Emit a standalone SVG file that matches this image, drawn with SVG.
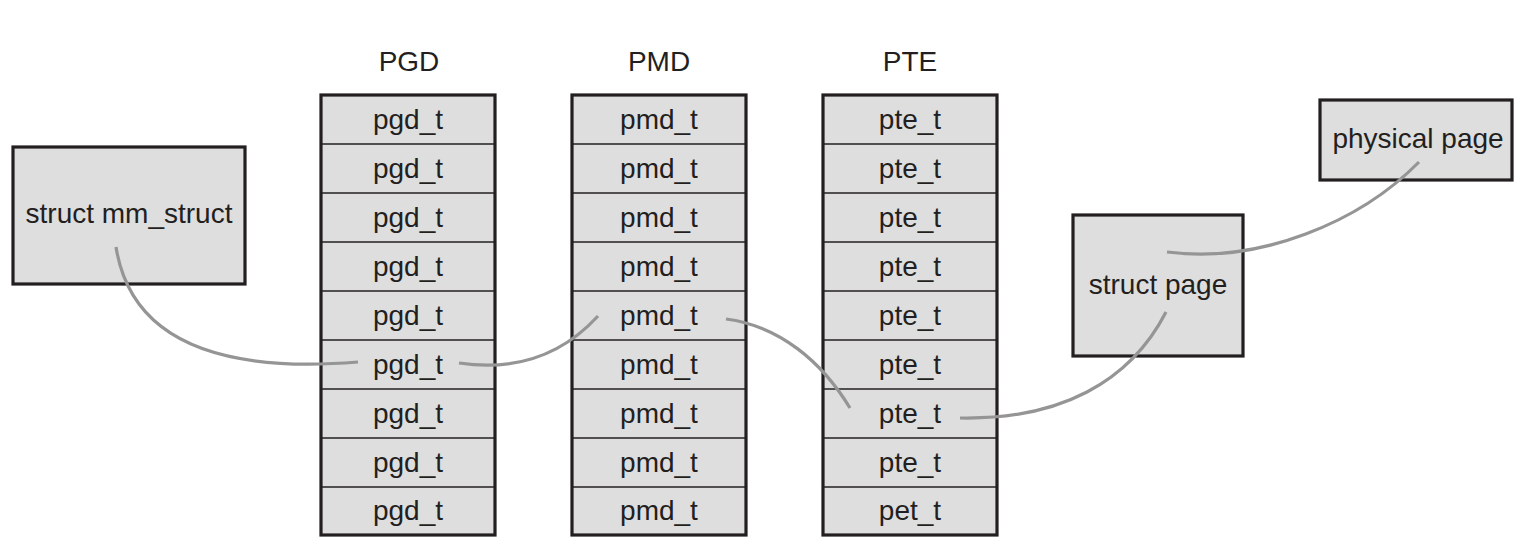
<svg xmlns="http://www.w3.org/2000/svg" width="1524" height="550" viewBox="0 0 1524 550">
<style>
.box{fill:#dedede;stroke:#231f20;stroke-width:3.2}
.sep{stroke:#231f20;stroke-width:1.6}
.t{font-family:"Liberation Sans",Arial,sans-serif;font-size:28px;fill:#231f20;text-anchor:middle}
.c{fill:none;stroke:#959595;stroke-width:3.2;stroke-linecap:butt}
</style>
<rect width="1524" height="550" fill="#ffffff"/>
<g id="mm_struct"><rect class="box" x="13" y="147" width="232" height="137"/><text class="t" x="129" y="223">struct mm_struct</text></g>
<g id="pgd">
<text class="t" x="409" y="71">PGD</text>
<rect class="box" x="321" y="95" width="174" height="440"/>
<g class="sep"><line x1="321" x2="495" y1="144" y2="144"/><line x1="321" x2="495" y1="193" y2="193"/><line x1="321" x2="495" y1="242" y2="242"/><line x1="321" x2="495" y1="291" y2="291"/><line x1="321" x2="495" y1="340" y2="340"/><line x1="321" x2="495" y1="389" y2="389"/><line x1="321" x2="495" y1="438" y2="438"/><line x1="321" x2="495" y1="487" y2="487"/></g>
<text class="t" x="408" y="129">pgd_t</text><text class="t" x="408" y="178">pgd_t</text><text class="t" x="408" y="227">pgd_t</text><text class="t" x="408" y="276">pgd_t</text><text class="t" x="408" y="325">pgd_t</text><text class="t" x="408" y="374">pgd_t</text><text class="t" x="408" y="423">pgd_t</text><text class="t" x="408" y="472">pgd_t</text><text class="t" x="408" y="520">pgd_t</text>
</g>
<g id="pmd">
<text class="t" x="659" y="71">PMD</text>
<rect class="box" x="572" y="95" width="174" height="440"/>
<g class="sep"><line x1="572" x2="746" y1="144" y2="144"/><line x1="572" x2="746" y1="193" y2="193"/><line x1="572" x2="746" y1="242" y2="242"/><line x1="572" x2="746" y1="291" y2="291"/><line x1="572" x2="746" y1="340" y2="340"/><line x1="572" x2="746" y1="389" y2="389"/><line x1="572" x2="746" y1="438" y2="438"/><line x1="572" x2="746" y1="487" y2="487"/></g>
<text class="t" x="659" y="129">pmd_t</text><text class="t" x="659" y="178">pmd_t</text><text class="t" x="659" y="227">pmd_t</text><text class="t" x="659" y="276">pmd_t</text><text class="t" x="659" y="325">pmd_t</text><text class="t" x="659" y="374">pmd_t</text><text class="t" x="659" y="423">pmd_t</text><text class="t" x="659" y="472">pmd_t</text><text class="t" x="659" y="520">pmd_t</text>
</g>
<g id="pte">
<text class="t" x="910" y="71">PTE</text>
<rect class="box" x="823" y="95" width="174" height="440"/>
<g class="sep"><line x1="823" x2="997" y1="144" y2="144"/><line x1="823" x2="997" y1="193" y2="193"/><line x1="823" x2="997" y1="242" y2="242"/><line x1="823" x2="997" y1="291" y2="291"/><line x1="823" x2="997" y1="340" y2="340"/><line x1="823" x2="997" y1="389" y2="389"/><line x1="823" x2="997" y1="438" y2="438"/><line x1="823" x2="997" y1="487" y2="487"/></g>
<text class="t" x="910" y="129">pte_t</text><text class="t" x="910" y="178">pte_t</text><text class="t" x="910" y="227">pte_t</text><text class="t" x="910" y="276">pte_t</text><text class="t" x="910" y="325">pte_t</text><text class="t" x="910" y="374">pte_t</text><text class="t" x="910" y="423">pte_t</text><text class="t" x="910" y="472">pte_t</text><text class="t" x="910" y="520">pet_t</text>
</g>
<g id="struct_page"><rect class="box" x="1073" y="215" width="170" height="141"/><text class="t" x="1158" y="294">struct page</text></g>
<g id="physical_page"><rect class="box" x="1320" y="100" width="192" height="80"/><text class="t" x="1418" y="148">physical page</text></g>
<g id="connectors">
<path class="c" d="M116,247 C130,335 210,374 358,362"/>
<path class="c" d="M459,363 C520,372 565,352 598,316"/>
<path class="c" d="M726,319 C780,326 822,362 850,408"/>
<path class="c" d="M960,418 C1060,420 1130,382 1166,312"/>
<path class="c" d="M1167,252 C1260,264 1360,222 1419,162"/>
</g>
</svg>
